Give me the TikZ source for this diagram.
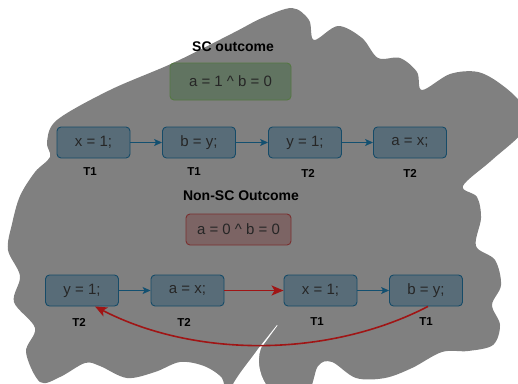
\documentclass[tikz,border=0pt]{standalone}
\usepackage{fontspec}
\setmainfont{Liberation Sans}
\usetikzlibrary{arrows.meta}
\definecolor{blobgrey}{HTML}{808080}
\definecolor{stepfill}{HTML}{586C78}
\definecolor{stepline}{HTML}{164B68}
\definecolor{flowblue}{HTML}{135070}
\definecolor{okfill}{HTML}{617461}
\definecolor{okline}{HTML}{557843}
\definecolor{badfill}{HTML}{7C6464}
\definecolor{badline}{HTML}{7A3030}
\definecolor{badred}{HTML}{A01515}
\tikzset{
  stepbox/.style={draw=stepline, fill=stepfill, line width=0.9pt, rounded corners=4pt,
    minimum width=73pt, minimum height=31pt, inner sep=0pt,
    font=\fontsize{15}{17}\selectfont, text=black!85},
  resultbox/.style={line width=0.9pt, rounded corners=4pt, inner sep=0pt,
    font=\fontsize{15}{17}\selectfont, text=black!85},
  thread/.style={font=\bfseries\fontsize{11.5}{13}\selectfont},
  heading/.style={font=\bfseries\fontsize{14}{16}\selectfont},
  flow/.style={draw=flowblue, line width=0.9pt, -{Stealth[length=8pt,width=7pt,inset=2pt]}},
  badflow/.style={draw=badred, line width=1.8pt, -{Stealth[length=12pt,width=10pt,inset=3pt]}},
}
\begin{document}
\begin{tikzpicture}[x=1pt,y=-1pt]
\useasboundingbox (0,0) rectangle (518,383);
\clip (0,0) rectangle (518,383);

% scribbled grey backdrop
\fill[blobgrey] plot[smooth cycle, tension=0.55] coordinates {
  (57,120) (110,90) (173,63) (233,33) (262,18) (292,8) (309,20) (314,40)
  (338,26) (362,38) (378,58) (400,58) (417,72) (422,90) (450,74) (478,72)
  (502,85) (522,105) (524,130) (492,160) (463,186) (477,197) (481,218)
  (476,246) (495,260) (501,285) (492,305) (500,325) (493,345) (468,351)
  (442,352) (412,368) (385,378) (356,378) (332,362) (318,366) (305,395)
  (260,398) (228,395) (222,378) (204,366) (180,362) (155,372) (127,378)
  (100,366) (85,363) (60,377) (40,382) (26,352) (35,328) (14,302) (20,276)
  (8,250) (12,224) (20,196) (35,172) (50,157) (47,142) };
% gap in the scribble: a thin crack widening towards the bottom
\fill[white] (277,325) -- (258,349) .. controls (249,362) and (237,375) .. (230,390)
  -- (270,390) .. controls (260,378) and (256,362) .. (261,348) -- (277.5,325.5) -- cycle;

% sequentially consistent outcome
\node[heading] (sctitle) at (233,47) {SC outcome};
\node[resultbox, draw=okline, fill=okfill, minimum width=121pt, minimum height=37pt]
  (scres) at (230.5,81.5) {a = 1 \textasciicircum{} b = 0};

\node[stepbox] (s1) at (93.5,142.5) {x = 1;};
\node[stepbox] (s2) at (199,142.5) {b = y;};
\node[stepbox] (s3) at (305,142.5) {y = 1;};
\node[stepbox] (s4) at (410,142.5) {a = x;};
\node[thread] (t1) at (90,172) {T1};
\node[thread] (t2) at (194,172) {T1};
\node[thread] (t3) at (308,173) {T2};
\node[thread] (t4) at (410,173) {T2};
\draw[flow] (s1) -- (s2);
\draw[flow] (s2) -- (s3);
\draw[flow] (s3) -- (s4);

% non-SC outcome
\node[heading] (nsctitle) at (241,196) {Non-SC Outcome};
\node[resultbox, draw=badline, fill=badfill, minimum width=105pt, minimum height=31pt]
  (nscres) at (238.5,229.5) {a = 0 \textasciicircum{} b = 0};

\node[stepbox] (n1) at (82,290.5) {y = 1;};
\node[stepbox] (n2) at (187.5,290.5) {a = x;};
\node[stepbox] (n3) at (320.5,290.5) {x = 1;};
\node[stepbox] (n4) at (426,290.5) {b = y;};
\node[thread] (u1) at (79,322) {T2};
\node[thread] (u2) at (184,322) {T2};
\node[thread] (u3) at (317,322) {T1};
\node[thread] (u4) at (426,322) {T1};
\draw[flow] (n1) -- (n2);
\draw[badflow] (n2) -- (n3);
\draw[flow] (n3) -- (n4);
\coordinate (from) at ([xshift=2pt]n4.south);
\coordinate (to) at ([xshift=13pt]n1.south);
\draw[badflow, line width=1.6pt] (from) .. controls (328,358) and (195,358) .. (to);
\end{tikzpicture}
\end{document}
